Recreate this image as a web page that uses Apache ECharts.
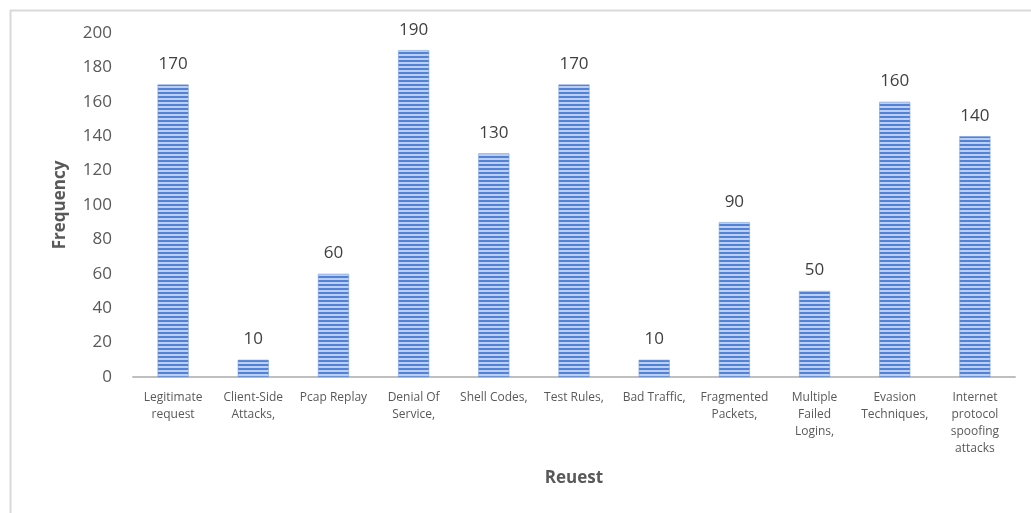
<!DOCTYPE html>
<html>
<head>
<meta charset="utf-8">
<script src="https://cdn.jsdelivr.net/npm/echarts@6/dist/echarts.min.js"></script>
<style>
  html, body { margin: 0; padding: 0; background: #fff; }
  #chart { width: 1031px; height: 513px; }
</style>
</head>
<body>
<div id="chart"></div>
<script>
// Request types and how often each occurred
const categories = [
  'Legitimate\nrequest', 'Client-Side\nAttacks,', 'Pcap Replay', 'Denial Of\nService,',
  'Shell Codes,', 'Test Rules,', 'Bad Traffic,', 'Fragmented\nPackets,',
  'Multiple\nFailed\nLogins,', 'Evasion\nTechniques,', 'Internet\nprotocol\nspoofing\nattacks'
];
const frequency = [170, 10, 60, 190, 130, 170, 10, 90, 50, 160, 140];
const yTicks = { min: 0, max: 200, interval: 20 };

// Horizontal striped fill for the bars
function stripePattern() {
  const c = document.createElement('canvas');
  c.width = 32; c.height = 4;
  const g = c.getContext('2d');
  g.fillStyle = '#bccff0';
  g.fillRect(0, 0, 32, 4);
  g.fillStyle = '#5282d6';
  g.fillRect(0, 0, 32, 2);
  return c;
}

const font = '"Open Sans", "DejaVu Sans", sans-serif';
const chart = echarts.init(document.getElementById('chart'));
chart.setOption({
  animation: false,
  textStyle: { fontFamily: font },
  graphic: [{
    type: 'rect', left: 8, top: 8,
    shape: { width: 1040, height: 520 },
    style: { fill: 'none', stroke: '#d9d9d9', lineWidth: 2 },
    silent: true
  }],
  grid: { left: 133, right: 16, top: 33, bottom: 136 },
  xAxis: {
    type: 'category',
    data: categories,
    name: 'Reuest',
    nameLocation: 'middle',
    nameGap: 93,
    nameTextStyle: { fontSize: 17, fontWeight: 'bold', color: '#595959', fontFamily: font },
    axisLine: { lineStyle: { color: '#bfbfbf', width: 2 } },
    axisTick: { show: false },
    axisLabel: {
      interval: 0, fontSize: 12, color: '#595959', lineHeight: 17, margin: 12,
      fontFamily: font
    }
  },
  yAxis: {
    type: 'value',
    min: yTicks.min, max: yTicks.max, interval: yTicks.interval,
    name: 'Frequency',
    nameLocation: 'middle',
    nameGap: 64,
    nameTextStyle: { fontSize: 17, fontWeight: 'bold', color: '#595959', fontFamily: font },
    axisLine: { show: false },
    axisTick: { show: false },
    splitLine: { show: false },
    axisLabel: { fontSize: 17, color: '#595959', margin: 21, fontFamily: font }
  },
  series: [{
    type: 'bar',
    data: frequency,
    barWidth: 31,
    itemStyle: {
      color: { image: stripePattern(), repeat: 'repeat' },
      borderColor: '#6f95d8', borderWidth: 0.5
    },
    label: {
      show: true, position: 'top', distance: 12,
      fontSize: 17, color: '#404040', fontFamily: font
    }
  }]
});
</script>
</body>
</html>
